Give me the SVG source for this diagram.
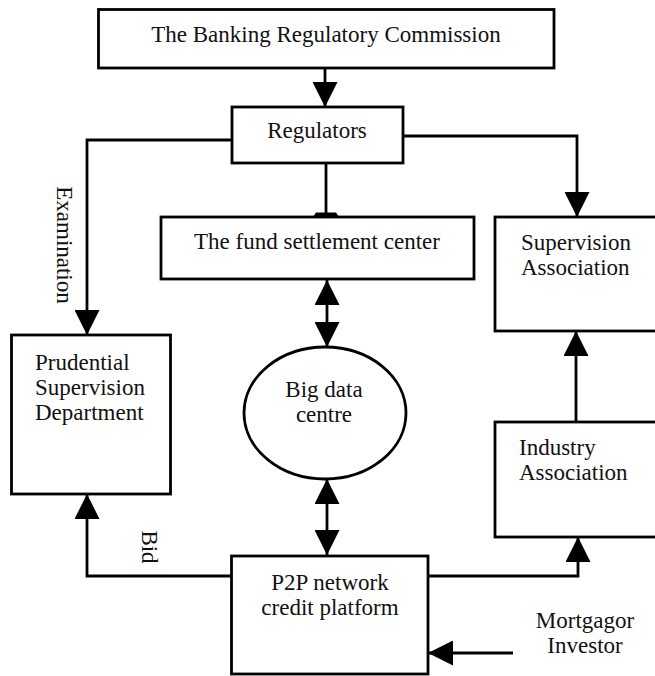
<svg xmlns="http://www.w3.org/2000/svg" width="655" height="676" viewBox="0 0 655 676">
<style>
.box{fill:#fff;stroke:#000;stroke-width:2.8}
.ln{fill:none;stroke:#000;stroke-width:2.8}
text{font-family:"Liberation Serif","Times New Roman",serif;font-size:23px;fill:#111}
.c{text-anchor:middle}
</style>
<defs>
<marker id="ah" viewBox="0 0 25 25" refX="25" refY="12.5" markerWidth="25" markerHeight="25" markerUnits="userSpaceOnUse" orient="auto-start-reverse">
<path d="M0,0 L25,12.5 L0,25 z" fill="#000"/>
</marker>
</defs>
<rect width="655" height="676" fill="#fff"/>
<g id="connectors">
<path class="ln" d="M325,68 V107" marker-end="url(#ah)"/>
<path class="ln" d="M232,140 H87 V335" marker-end="url(#ah)"/>
<path class="ln" d="M326,163 V214"/>
<polygon points="313,217 339,217 336,212.5 316,212.5" fill="#000"/>
<path class="ln" d="M403,136 H577 V217" marker-end="url(#ah)"/>
<path class="ln" d="M327,280 V347" marker-start="url(#ah)" marker-end="url(#ah)"/>
<path class="ln" d="M327,479 V555" marker-start="url(#ah)" marker-end="url(#ah)"/>
<path class="ln" d="M576,422 V331" marker-end="url(#ah)"/>
<path class="ln" d="M428,576 H578 V537" marker-end="url(#ah)"/>
<path class="ln" d="M232,576 H87 V494" marker-end="url(#ah)"/>
<path class="ln" d="M513,653 H428" marker-end="url(#ah)"/>
<text transform="translate(56.5,245) rotate(90)" class="c">Examination</text>
<text transform="translate(141.5,547) rotate(90)" class="c">Bid</text>
</g>
<g id="commission">
<rect class="box" x="98.5" y="9.5" width="455.5" height="58.5"/>
<text class="c" x="326" y="42">The Banking Regulatory Commission</text>
</g>
<g id="regulators">
<rect class="box" x="232" y="107" width="171" height="56"/>
<text class="c" x="317" y="138">Regulators</text>
</g>
<g id="fund">
<rect class="box" x="161" y="217" width="313" height="62"/>
<text class="c" x="317" y="249">The fund settlement center</text>
</g>
<g id="supervision">
<rect class="box" x="495" y="217" width="170" height="114"/>
<text x="521" y="250">Supervision</text>
<text x="521" y="275">Association</text>
</g>
<g id="prudential">
<rect class="box" x="11.5" y="335" width="159" height="159"/>
<text x="35" y="370">Prudential</text>
<text x="35" y="395">Supervision</text>
<text x="35" y="420">Department</text>
</g>
<g id="bigdata">
<ellipse class="box" cx="325" cy="413" rx="81" ry="66"/>
<text class="c" x="324" y="397">Big data</text>
<text class="c" x="324" y="422">centre</text>
</g>
<g id="industry">
<rect class="box" x="495" y="422" width="170" height="115"/>
<text x="519" y="455">Industry</text>
<text x="519" y="480">Association</text>
</g>
<g id="p2p">
<rect class="box" x="231.5" y="556" width="196.5" height="118"/>
<text class="c" x="330" y="590">P2P network</text>
<text class="c" x="330" y="615">credit platform</text>
</g>
<g id="mortgagor">
<text class="c" x="585" y="628">Mortgagor</text>
<text class="c" x="585" y="653">Investor</text>
</g>
</svg>
